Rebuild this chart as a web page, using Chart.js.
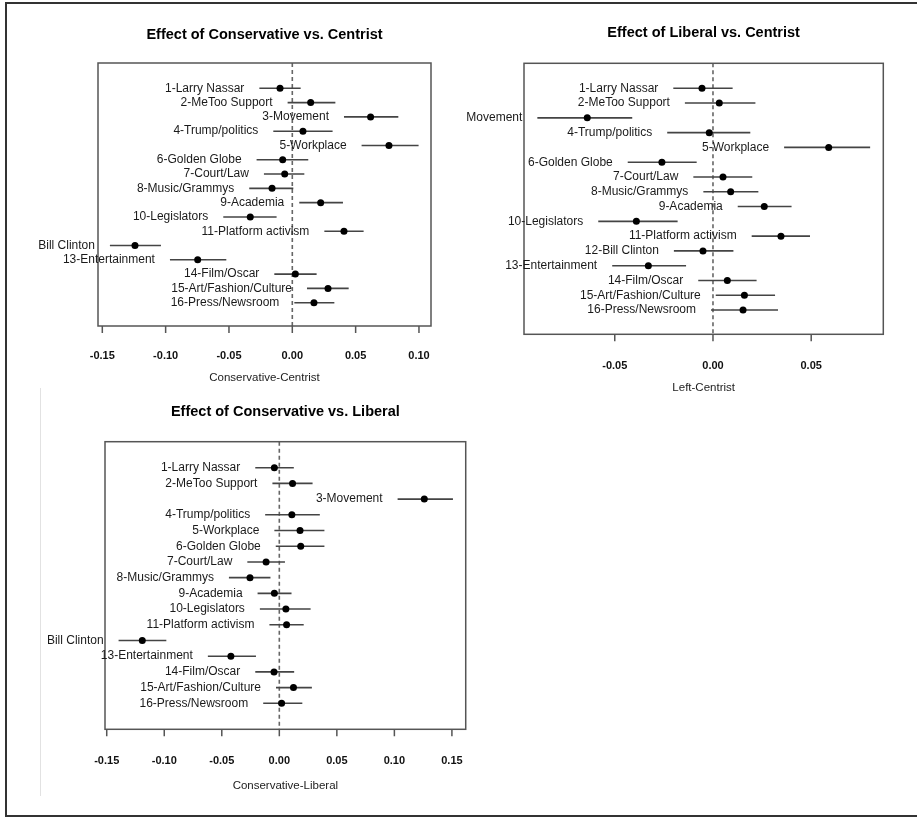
<!DOCTYPE html>
<html>
<head>
<meta charset="utf-8">
<script src="https://cdn.jsdelivr.net/npm/chart.js@4/dist/chart.umd.min.js"></script>
<style>
  body { margin: 0; background: #fff; width: 917px; height: 820px; overflow: hidden; position: relative; }
  canvas { position: absolute; }
  #frame { position: absolute; left: 5px; top: 2px; width: 930px; height: 815px; border: 2px solid #333; box-sizing: border-box; }
  #faint { position: absolute; left: 40px; top: 388px; width: 1px; height: 408px; background: #e2e2e2; }
</style>
</head>
<body>
<div id="frame"></div>
<div id="faint"></div>
<canvas id="c1" width="422" height="400" style="left:38px;top:0px"></canvas>
<canvas id="c2" width="450" height="410" style="left:467px;top:0px"></canvas>
<canvas id="c3" width="432" height="420" style="left:48px;top:390px"></canvas>
<script>
// row labels (same 16 topics in every panel)
const topics = ["1-Larry Nassar", "2-MeToo Support", "3-Movement", "4-Trump/politics", "5-Workplace",
  "6-Golden Globe", "7-Court/Law", "8-Music/Grammys", "9-Academia", "10-Legislators",
  "11-Platform activism", "12-Bill Clinton", "13-Entertainment", "14-Film/Oscar",
  "15-Art/Fashion/Culture", "16-Press/Newsroom"];

// Conservative - Centrist
const consCentEst = [-0.0097, 0.0145, 0.0618, 0.0084, 0.0763, -0.0076, -0.0060, -0.0160,
  0.0224, -0.0332, 0.0408, -0.1242, -0.0747, 0.0024, 0.0282, 0.0171];
const consCentLo = [-0.0260, -0.0037, 0.0408, -0.0150, 0.0547, -0.0282, -0.0224, -0.0340,
  0.0055, -0.0545, 0.0253, -0.1440, -0.0966, -0.0142, 0.0116, 0.0016];
const consCentHi = [0.0066, 0.0340, 0.0837, 0.0318, 0.0997, 0.0126, 0.0095, 0.0008,
  0.0400, -0.0124, 0.0563, -0.1037, -0.0521, 0.0192, 0.0445, 0.0332];

// Left (Liberal) - Centrist
const libCentEst = [-0.0056, 0.0032, -0.0640, -0.0019, 0.0589, -0.0260, 0.0051, 0.0090,
  0.0261, -0.0390, 0.0346, -0.0051, -0.0329, 0.0073, 0.0160, 0.0153];
const libCentLo = [-0.0202, -0.0143, -0.0894, -0.0233, 0.0362, -0.0434, -0.0100, -0.0049,
  0.0126, -0.0584, 0.0197, -0.0199, -0.0513, -0.0075, 0.0014, -0.0010];
const libCentHi = [0.0100, 0.0216, -0.0411, 0.0190, 0.0800, -0.0083, 0.0200, 0.0231,
  0.0400, -0.0180, 0.0494, 0.0104, -0.0137, 0.0222, 0.0316, 0.0331];

// Conservative - Liberal
const consLibEst = [-0.0043, 0.0115, 0.1260, 0.0109, 0.0180, 0.0186, -0.0115, -0.0255,
  -0.0043, 0.0057, 0.0063, -0.1191, -0.0421, -0.0046, 0.0123, 0.0020];
const consLibLo = [-0.0209, -0.0060, 0.1028, -0.0123, -0.0043, -0.0031, -0.0278, -0.0438,
  -0.0189, -0.0169, -0.0086, -0.1397, -0.0621, -0.0209, -0.0029, -0.0140];
const consLibHi = [0.0126, 0.0289, 0.1509, 0.0352, 0.0392, 0.0392, 0.0049, -0.0077,
  0.0106, 0.0272, 0.0212, -0.0982, -0.0203, 0.0129, 0.0283, 0.0200];

// x tick labels
const ticksWide = [-0.15, -0.10, -0.05, 0.00, 0.05, 0.10];
const ticksNarrow = [-0.05, 0.00, 0.05];
const ticksFull = [-0.15, -0.10, -0.05, 0.00, 0.05, 0.10, 0.15];

const FONT = "'Liberation Sans', Arial, sans-serif";

// box, zero line, tick marks, row labels and panel title, R style
const rStyle = {
  id: 'rStyle',
  beforeDatasetsDraw(chart) {
    const {ctx, chartArea: a, scales: {x}} = chart;
    const x0 = x.getPixelForValue(0);
    ctx.save();
    ctx.strokeStyle = '#666';
    ctx.lineWidth = 1.6;
    ctx.setLineDash([4, 3]);
    ctx.beginPath();
    ctx.moveTo(x0, a.top);
    ctx.lineTo(x0, a.bottom);
    ctx.stroke();
    ctx.restore();
  },
  afterDraw(chart, args, opts) {
    const {ctx, chartArea: a, scales: {x, y}} = chart;
    ctx.save();
    ctx.strokeStyle = '#555';
    ctx.lineWidth = 1.5;
    ctx.strokeRect(a.left, a.top, a.right - a.left, a.bottom - a.top);
    // tick marks
    ctx.beginPath();
    x.ticks.forEach(t => {
      const px = x.getPixelForValue(t.value);
      ctx.moveTo(px, a.bottom);
      ctx.lineTo(px, a.bottom + 7);
    });
    ctx.stroke();
    // row labels, right aligned left of each interval
    ctx.fillStyle = '#1a1a1a';
    ctx.font = '12px ' + FONT;
    ctx.textAlign = 'right';
    ctx.textBaseline = 'middle';
    topics.forEach((t, i) => {
      ctx.fillText(t, x.getPixelForValue(opts.lo[i]) - 15, y.getPixelForValue(i + 1));
    });
    // panel title
    ctx.fillStyle = '#000';
    ctx.font = 'bold 14.5px ' + FONT;
    ctx.textAlign = 'center';
    ctx.fillText(opts.title, (a.left + a.right) / 2, opts.titleY);
    ctx.restore();
  }
};

function makePanel(id, est, lo, hi, o) {
  const ci = [];
  for (let i = 0; i < topics.length; i++) {
    ci.push({x: lo[i], y: i + 1}, {x: hi[i], y: i + 1}, {x: null, y: null});
  }
  return new Chart(document.getElementById(id), {
    type: 'scatter',
    data: {
      datasets: [{
        data: est.map((v, i) => ({x: v, y: i + 1})),
        backgroundColor: '#000',
        borderColor: '#000',
        pointRadius: 3.5,
        borderWidth: 0
      }, {
        type: 'line',
        data: ci,
        borderColor: '#444',
        borderWidth: 1.6,
        pointRadius: 0,
        spanGaps: false,
        fill: false
      }]
    },
    options: {
      responsive: false,
      animation: false,
      events: [],
      layout: {padding: {left: o.left, right: o.right, top: o.top, bottom: o.bottom}},
      plugins: {
        legend: {display: false},
        tooltip: {enabled: false},
        rStyle: {lo: lo, title: o.title, titleY: o.titleY}
      },
      scales: {
        x: {
          type: 'linear',
          min: o.xmin,
          max: o.xmax,
          grid: {display: false},
          border: {display: false},
          afterBuildTicks: s => { s.ticks = o.ticks.map(v => ({value: v})); },
          afterFit: s => { s.height = o.axisH; },
          ticks: {
            padding: o.tickPad,
            autoSkip: false,
            maxRotation: 0,
            color: '#111',
            font: {family: FONT, size: 11, weight: 'bold'},
            callback: v => v.toFixed(2)
          },
          title: {
            display: true,
            text: o.xTitle,
            color: '#222',
            font: {family: FONT, size: 11.5},
            padding: {top: 0, bottom: o.titlePad}
          }
        },
        y: {type: 'linear', display: false, reverse: true, min: o.ymin, max: o.ymax}
      }
    },
    plugins: [rStyle]
  });
}

makePanel('c1', consCentEst, consCentLo, consCentHi, {
  left: 60, right: 29, top: 63, bottom: 0, axisH: 74, tickPad: 15, titlePad: 15,
  xmin: -0.1534, xmax: 0.1095, ymin: -0.77, ymax: 17.63, ticks: ticksWide,
  xTitle: 'Conservative-Centrist', title: 'Effect of Conservative vs. Centrist', titleY: 35
});

makePanel('c2', libCentEst, libCentLo, libCentHi, {
  left: 57, right: 33.7, top: 63.3, bottom: 0, axisH: 75.7, tickPad: 16.7, titlePad: 15.3,
  xmin: -0.0962, xmax: 0.0867, ymin: -0.69, ymax: 17.64, ticks: ticksNarrow,
  xTitle: 'Left-Centrist', title: 'Effect of Liberal vs. Centrist', titleY: 33
});

makePanel('c3', consLibEst, consLibLo, consLibHi, {
  left: 57, right: 10, top: 51.7, bottom: 2.7, axisH: 78, tickPad: 17, titlePad: 14.6,
  xmin: -0.1515, xmax: 0.162, ymin: -0.655, ymax: 17.655, ticks: ticksFull,
  xTitle: 'Conservative-Liberal', title: 'Effect of Conservative vs. Liberal', titleY: 22
});
</script>
</body>
</html>
